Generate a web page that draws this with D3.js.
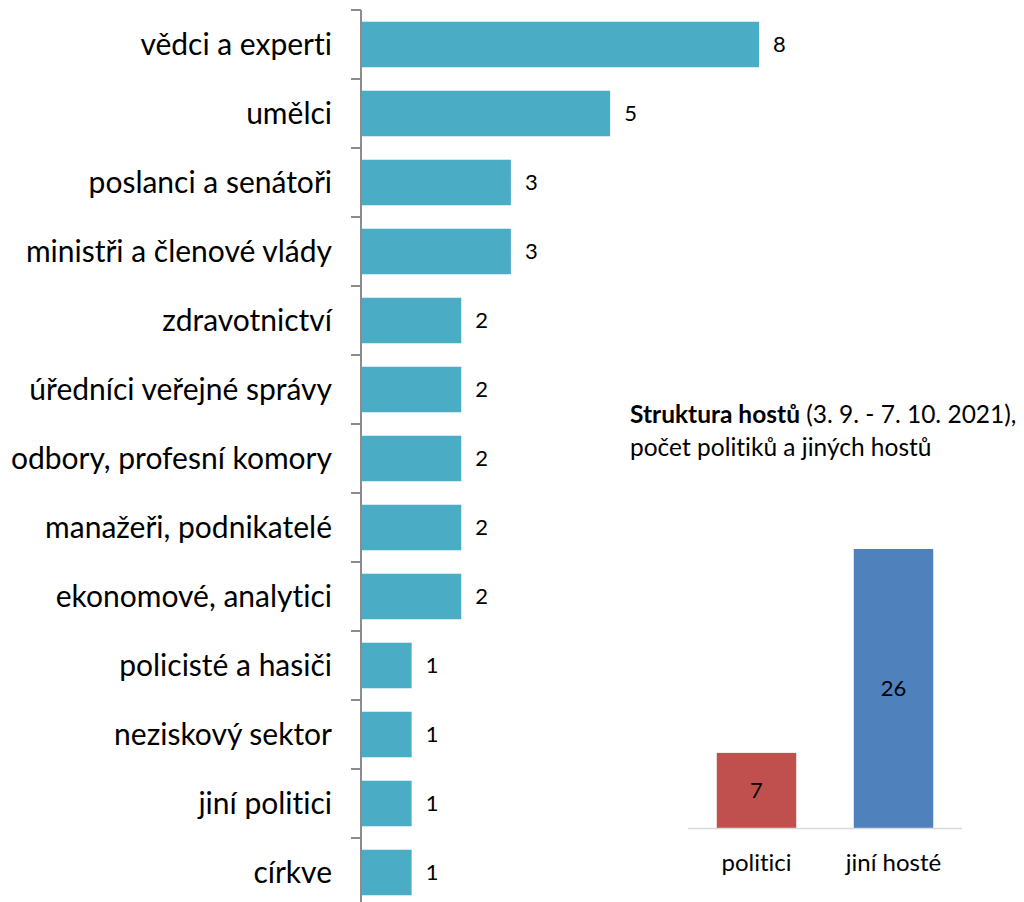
<!DOCTYPE html>
<html>
<head>
<meta charset="utf-8">
<script src="https://cdn.jsdelivr.net/npm/d3@7"></script>
<style>
  html, body { margin: 0; padding: 0; background: #fff; }
  svg { display: block; }
  text { font-family: Lato, "Open Sans", sans-serif; fill: #000; font-variant-ligatures: none; }
</style>
</head>
<body>
<svg id="chart" width="1024" height="902"></svg>
<script>
// Guests by group (main bar chart)
const categories = [
  "vědci a experti", "umělci", "poslanci a senátoři", "ministři a členové vlády",
  "zdravotnictví", "úředníci veřejné správy", "odbory, profesní komory",
  "manažeři, podnikatelé", "ekonomové, analytici", "policisté a hasiči",
  "neziskový sektor", "jiní politici", "církve"
];
const counts = [8, 5, 3, 3, 2, 2, 2, 2, 2, 1, 1, 1, 1];

// Politicians vs other guests (inset chart)
const groups = ["politici", "jiní hosté"];
const groupCounts = [7, 26];
const groupColors = ["#C0504D", "#4F81BD"];

const svg = d3.select("#chart");

// ---- main horizontal bar chart ----
const x = d3.scaleLinear().domain([0, 8]).range([362, 759]);
const y = d3.scaleBand().domain(categories).range([10, 907]).paddingInner(0.34).paddingOuter(0.17);

const main = svg.append("g");

main.selectAll("rect.bar")
  .data(categories)
  .join("rect")
  .attr("class", "bar")
  .attr("x", x(0))
  .attr("y", d => y(d))
  .attr("width", (d, i) => x(counts[i]) - x(0))
  .attr("height", y.bandwidth())
  .attr("fill", "#4BACC6");

main.selectAll("text.val")
  .data(categories)
  .join("text")
  .attr("class", "val")
  .attr("x", (d, i) => x(counts[i]) + 14)
  .attr("y", d => y(d) + y.bandwidth() / 2)
  .attr("dy", "0.35em")
  .style("font-size", "22px")
  .text((d, i) => counts[i]);

// category axis with ticks on band boundaries
const step = y.step();
const bounds = d3.range(categories.length + 1).map(i => 10 + i * step);
main.append("line")
  .attr("x1", 361).attr("x2", 361)
  .attr("y1", 10).attr("y2", 907)
  .attr("stroke", "#8c8c8c").attr("stroke-width", 2);
main.selectAll("line.tick")
  .data(bounds)
  .join("line")
  .attr("class", "tick")
  .attr("x1", 351).attr("x2", 361)
  .attr("y1", d => d).attr("y2", d => d)
  .attr("stroke", "#8c8c8c").attr("stroke-width", 2);

main.selectAll("text.cat")
  .data(categories)
  .join("text")
  .attr("class", "cat")
  .attr("x", 332)
  .attr("y", d => y(d) + y.bandwidth() / 2)
  .attr("dy", "0.35em")
  .attr("text-anchor", "end")
  .style("font-size", "30px")
  .text(d => d);

// ---- inset column chart ----
const x2 = d3.scaleBand().domain(groups).range([688, 962]).paddingInner(0.42).paddingOuter(0.21);
const y2 = d3.scaleLinear().domain([0, 26]).range([828, 549]);

const inset = svg.append("g");

const title = inset.append("text").attr("x", 630).attr("y", 423).style("font-size", "24.5px");
title.append("tspan").style("font-weight", "bold").text("Struktura hostů");
title.append("tspan").text(" (3. 9. - 7. 10. 2021),");
inset.append("text").attr("x", 630).attr("y", 456).style("font-size", "24.5px")
  .text("počet politiků a jiných hostů");

inset.selectAll("rect")
  .data(groups)
  .join("rect")
  .attr("x", d => x2(d))
  .attr("y", (d, i) => y2(groupCounts[i]))
  .attr("width", x2.bandwidth())
  .attr("height", (d, i) => y2(0) - y2(groupCounts[i]))
  .attr("fill", (d, i) => groupColors[i]);

inset.append("line")
  .attr("x1", 688).attr("x2", 962)
  .attr("y1", 828.5).attr("y2", 828.5)
  .attr("stroke", "#d9d9d9").attr("stroke-width", 1.5);

inset.selectAll("text.gval")
  .data(groups)
  .join("text")
  .attr("class", "gval")
  .attr("x", d => x2(d) + x2.bandwidth() / 2)
  .attr("y", (d, i) => (y2(groupCounts[i]) + y2(0)) / 2)
  .attr("dy", "0.35em")
  .attr("text-anchor", "middle")
  .style("font-size", "22px")
  .text((d, i) => groupCounts[i]);

inset.selectAll("text.glab")
  .data(groups)
  .join("text")
  .attr("class", "glab")
  .attr("x", d => x2(d) + x2.bandwidth() / 2)
  .attr("y", 871)
  .attr("text-anchor", "middle")
  .style("font-size", "24px")
  .text(d => d);
</script>
</body>
</html>
